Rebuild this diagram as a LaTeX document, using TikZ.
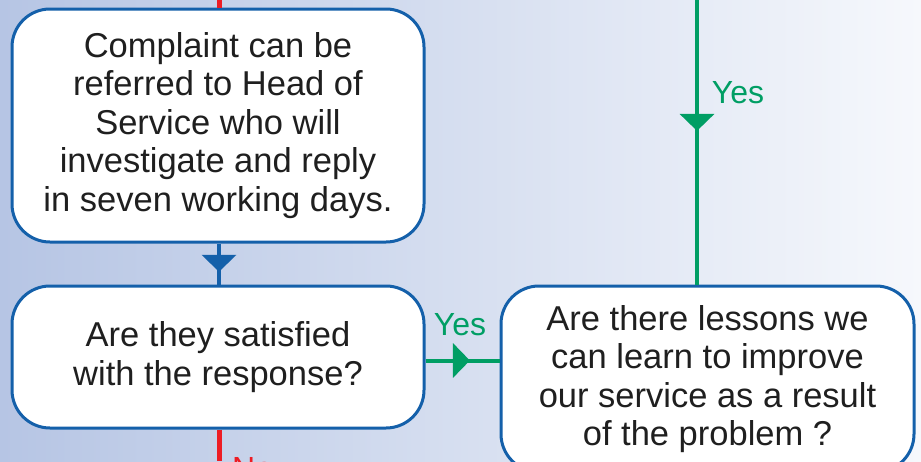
\documentclass[tikz,border=0pt]{standalone}
\usepackage{fontspec}
\setmainfont{Liberation Sans}
\usetikzlibrary{arrows.meta,decorations.markings,calc}
\definecolor{boxblue}{RGB}{20,96,170}
\definecolor{okgreen}{RGB}{0,158,100}
\definecolor{nored}{RGB}{237,28,36}
\definecolor{bgleft}{RGB}{182,197,228}
\definecolor{bgright}{RGB}{246,248,252}
\tikzset{
  x=1pt, y=-1pt,
  flowbox/.style={draw=boxblue, line width=3pt, fill=white, rounded corners=38pt,
    align=center, inner sep=0pt, font=\fontsize{34.5}{38.5}\selectfont, text=black!88},
  blueconn/.style={draw=boxblue, line width=4pt, postaction={decorate},
    decoration={markings, mark=at position #1 with {\arrow[boxblue]{Triangle[width=34pt,length=17pt]}}}},
  greenconn/.style={draw=okgreen, line width=4pt, postaction={decorate},
    decoration={markings, mark=at position #1 with {\arrow[okgreen]{Triangle[width=34pt,length=17pt]}}}},
  redline/.style={draw=nored, line width=5pt},
  yeslabel/.style={text=okgreen, font=\fontsize{32}{36}\selectfont, inner sep=0pt},
}
\begin{document}
\begin{tikzpicture}
\useasboundingbox (0,0) rectangle (921,461);
\clip (0,0) rectangle (921,461);
\shade[left color=bgleft, right color=bgright] (0,0) rectangle (921,461);

\node[flowbox, minimum width=412pt, minimum height=233pt] (b1) at (218,125.5)
  {Complaint can be\\referred to Head of\\Service who will\\investigate and reply\\in seven working days.};
\node[flowbox, minimum width=412pt, minimum height=142pt] (b2) at (218,357)
  {Are they satisfied\\with the response?};
\node[flowbox, minimum width=413pt, minimum height=186pt] (b3) at (707.5,379)
  {Are there lessons we\\can learn to improve\\our service as a result\\of the problem ?};

\coordinate (redtop) at (219,0);
\coordinate (redbot) at (219,461);
\coordinate (greentop) at (697,0);
\coordinate (gstart) at ($(b2.east)+(0,3.5)$);

\draw[redline] (redtop) -- (redtop |- b1.north);
\draw[redline] (redbot |- b2.south) -- (redbot);
\draw[blueconn=0.69] (redtop |- b1.south) -- (redtop |- b2.north);
\draw[greenconn=0.60] (gstart) -- (gstart -| b3.west);
\draw[greenconn=0.46] (greentop) -- (greentop |- b3.north);

\node[yeslabel] (y1) at (738,93) {Yes};
\node[yeslabel] (y2) at (460,325) {Yes};
\node[text=nored, font=\fontsize{32}{36}\selectfont, inner sep=0pt, anchor=north west] (no) at (232,457) {No};
\end{tikzpicture}
\end{document}
